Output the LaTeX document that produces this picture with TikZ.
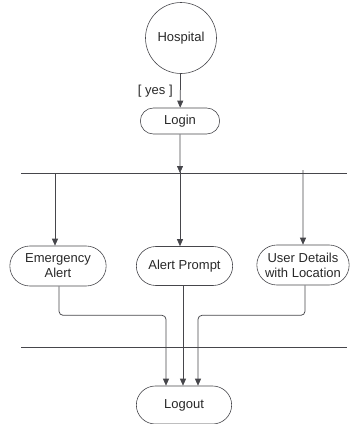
\documentclass[tikz,border=0pt]{standalone}
\usepackage{fontspec}
\setmainfont{Liberation Sans}
\usepackage{tikz}
\usetikzlibrary{shapes.misc, arrows.meta}
\definecolor{linegray}{RGB}{70, 70, 75}
\definecolor{textdark}{RGB}{40, 40, 40}

\begin{document}
\begin{tikzpicture}[
        x=1pt, y=-1pt,
        start/.style={circle, draw=linegray, line width=0.6pt, minimum size=71pt, text=textdark, font=\fontsize{13}{15}\selectfont},
        activity/.style={rounded rectangle, draw=linegray, line width=0.6pt, minimum width=102pt, minimum height=39pt, text=textdark, align=center, font=\fontsize{13}{15}\selectfont},
        flow/.style={-{Triangle[length=7pt, width=6pt]}, line width=0.75pt, color=linegray},
        bar/.style={line width=0.75pt, color=linegray}
    ]
    \useasboundingbox (0,0) rectangle (352,424);

    % Start and login
    \node[start] (hospital) at (181, 38) {Hospital};
    \node[activity, minimum width=86pt, minimum height=26pt] (login) at (180, 121) {Login};

    % Fork and join bars
    \coordinate (fork_l) at (21, 173);
    \coordinate (fork_r) at (347, 173);
    \coordinate (join_l) at (21, 347);
    \coordinate (join_r) at (347, 347);
    \coordinate (fork_a) at (55, 173);
    \coordinate (fork_c) at (303, 170);

    % Activities
    \node[activity, minimum width=103pt, minimum height=40pt] (emergency) at (58, 266) {Emergency\\ Alert};
    \node[activity, minimum width=103pt] (prompt) at (184.5, 266) {Alert Prompt};
    \node[activity, minimum width=99pt, minimum height=40pt] (details) at (303, 265) {User Details\\ with Location};
    \node[activity, minimum height=38pt] (logout) at (184, 405) {Logout};

    % Bars
    \draw[bar] (fork_l) -- (fork_r);
    \draw[bar] (join_l) -- (join_r);

    % Flows
    \draw[flow] (hospital) -- node[left, pos=0.5, xshift=-4pt, text=textdark, font=\fontsize{13}{15}\selectfont] {[ yes ]} (login);
    \draw[flow] (login) -- (login |- fork_l);
    \draw[flow] (fork_a) -- (fork_a |- emergency.north);
    \draw[flow] (prompt.north -| login) ++(0,-74) -- (prompt.north -| login);
    \draw[flow] (fork_c) -- (details);

    % Join flows
    \draw[flow, rounded corners=4pt] ([xshift=1pt]emergency.south) -- ++(0, 29) -| ([xshift=-18pt]logout.north);
    \draw[flow] ([xshift=-1.5pt]prompt.south) -- ([xshift=-1pt]logout.north);
    \draw[flow, rounded corners=4pt] ([xshift=2pt]details.south) -- ++(0, 30) -| ([xshift=14pt]logout.north);

\end{tikzpicture}
\end{document}
